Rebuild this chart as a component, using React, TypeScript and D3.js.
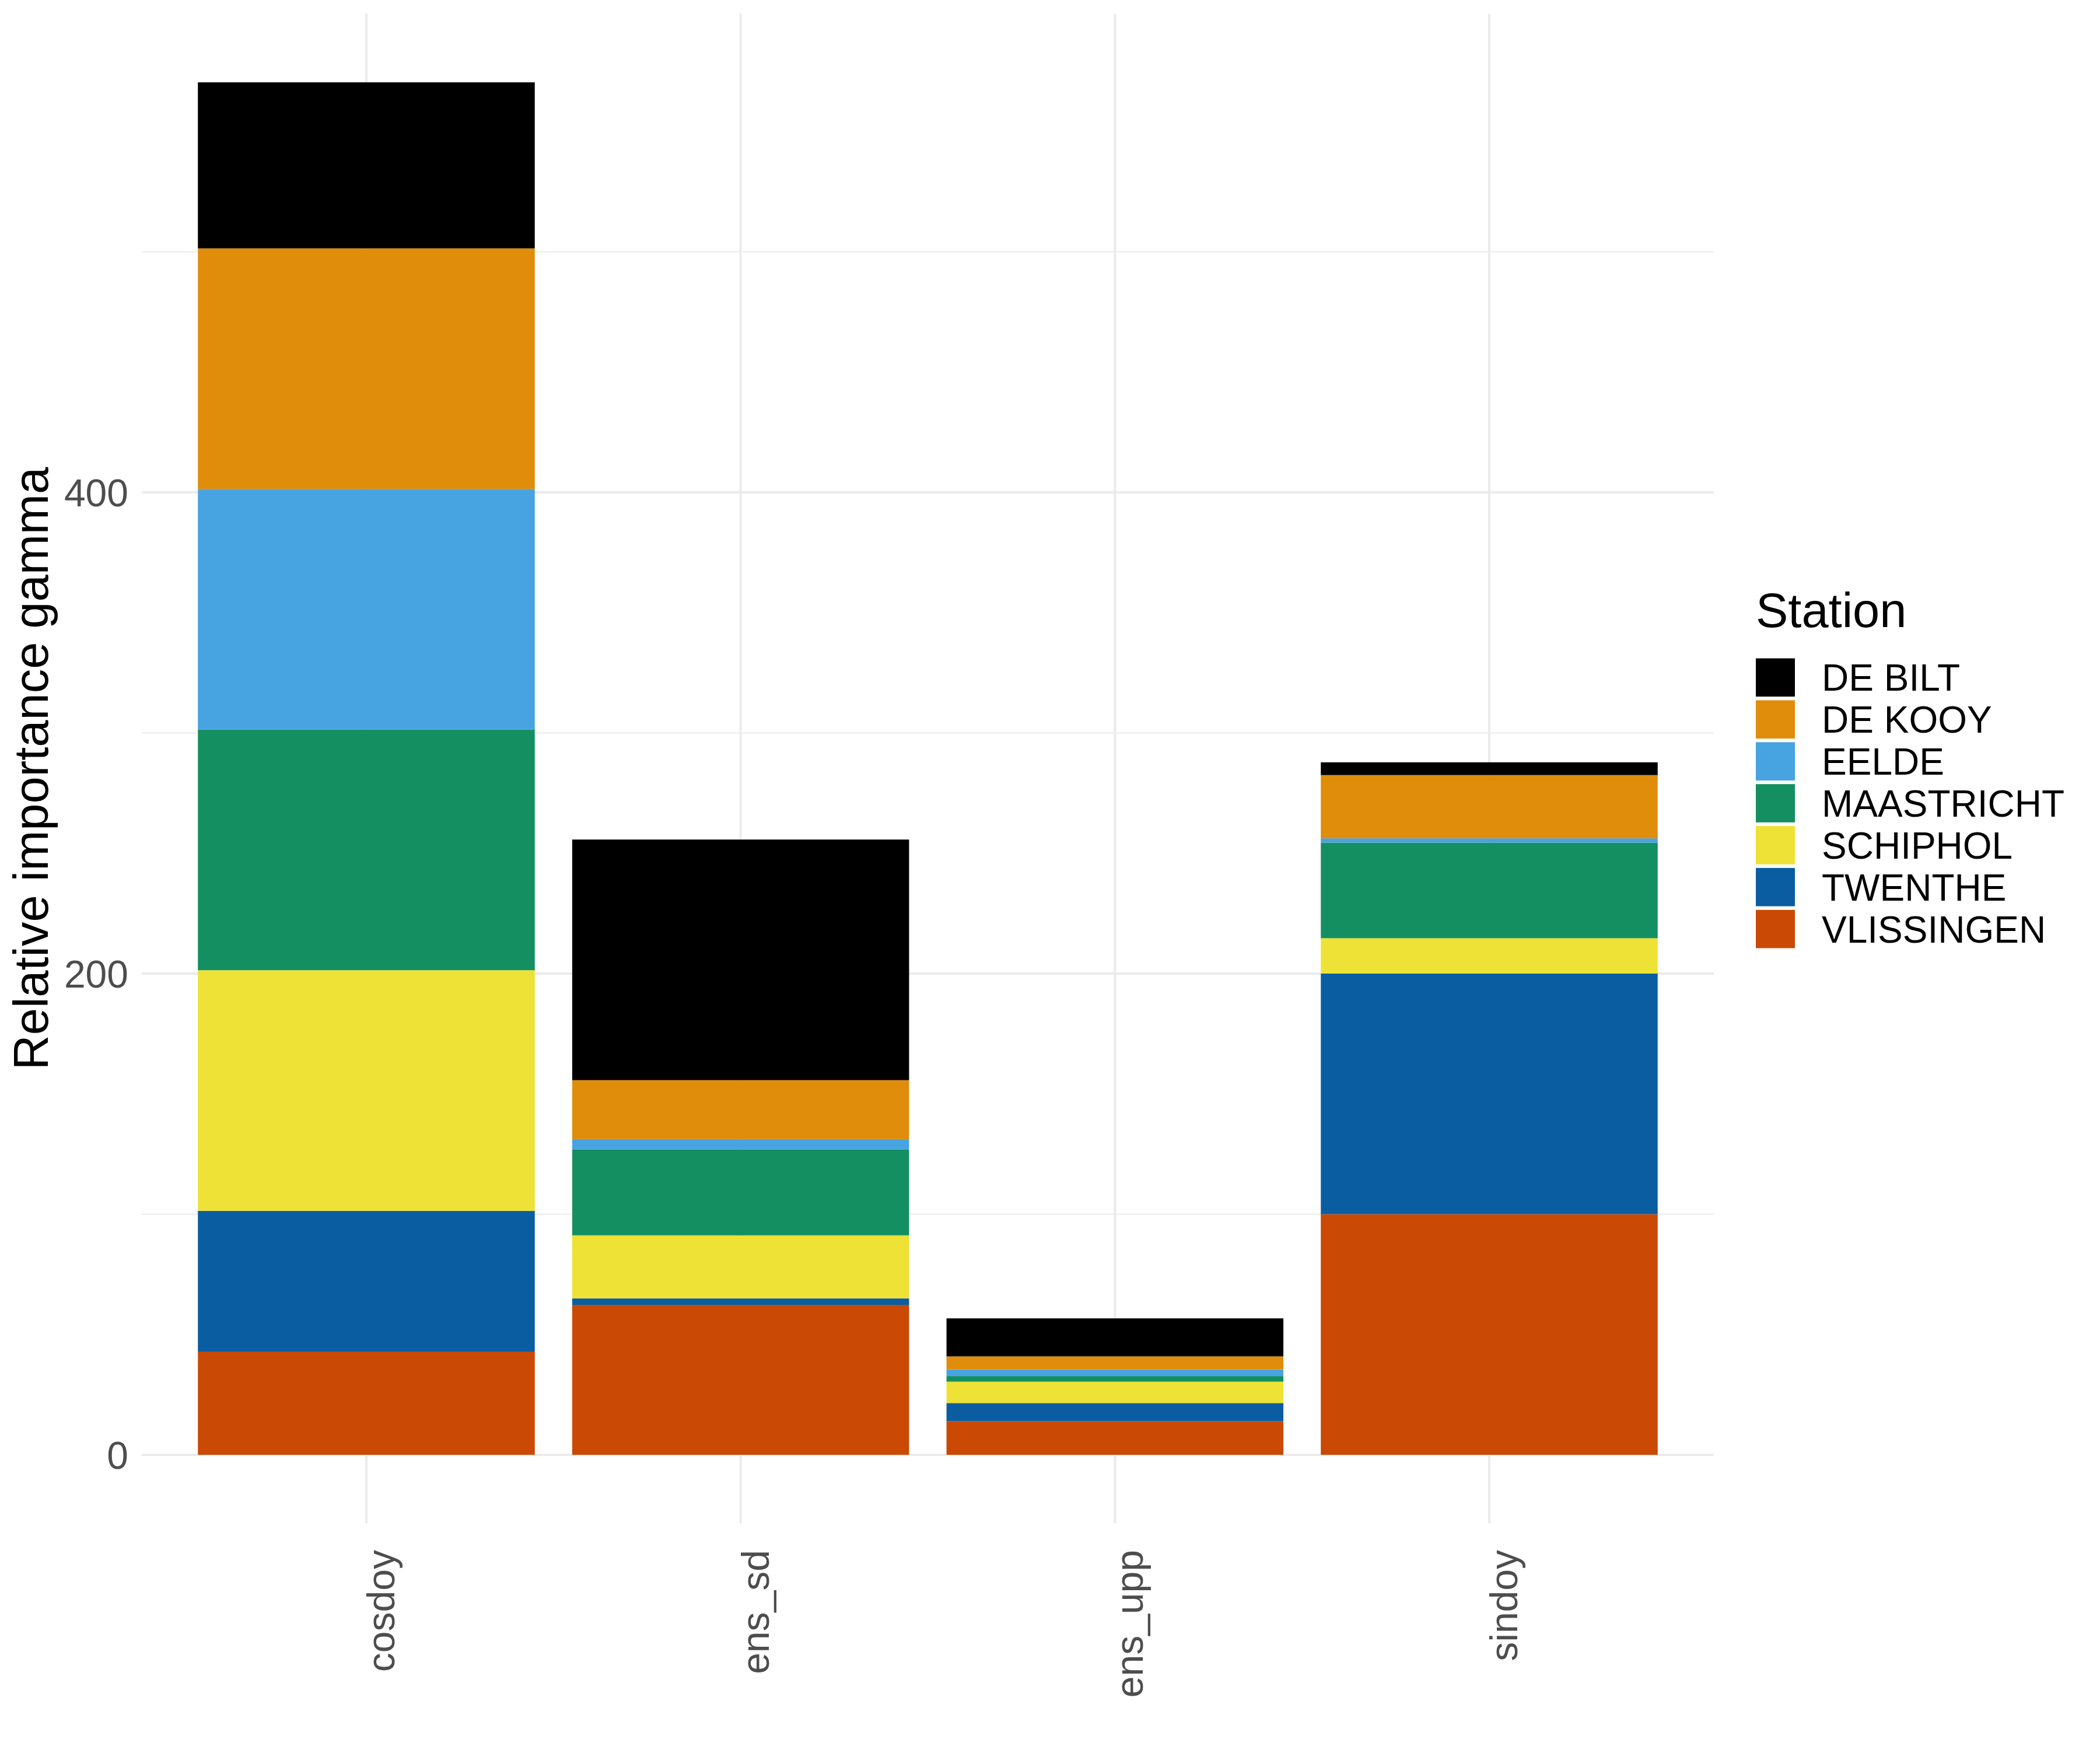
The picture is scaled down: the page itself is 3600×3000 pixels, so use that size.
import * as d3 from "d3";

// --- Data ---

const variables = ["cosdoy", "ens_sd", "ens_upp", "sindoy"];

const stations = [
  "DE BILT",
  "DE KOOY",
  "EELDE",
  "MAASTRICHT",
  "SCHIPHOL",
  "TWENTHE",
  "VLISSINGEN",
];

const stationColors = [
  "#000000",
  "#DF8D0A",
  "#48A3E1",
  "#148F61",
  "#EDE235",
  "#0B5DA1",
  "#C94905",
];

// values per station, in the order of `variables`
const deBilt = [69.0, 100.0, 15.8, 5.3];
const deKooy = [100.0, 24.5, 5.4, 26.3];
const eelde = [100.0, 4.4, 2.8, 1.8];
const maastricht = [100.0, 35.6, 2.3, 39.7];
const schiphol = [100.0, 26.2, 8.9, 14.7];
const twenthe = [58.5, 2.7, 7.5, 100.0];
const vlissingen = [42.9, 62.3, 14.0, 100.0];

const majorTicks = [0, 200, 400];
const minorTicks = [100, 300, 500];

const yTitle = "Relative importance gamma";
const legendTitle = "Station";

// --- Layout ---

const W = 3600;
const H = 3000;

const PANEL = { left: 243, right: 2938, top: 23.5, bottom: 2611.6 };

const FONT = "'Liberation Sans', Arial, Helvetica, sans-serif";
const AXIS_TEXT = { size: 66, color: "#4D4D4D" };
const TITLE_SIZE = 83;

const GRID = { color: "#EBEBEB", major: 4, minor: 2 };

const LEGEND = {
  x: 3010,
  titleY: 1075,
  firstKeyY: 1128.6,
  step: 71.87,
  keyW: 67,
  keyH: 65.6,
  labelX: 3123,
  labelSize: 64,
};

export default function App() {
  const valuesByStation: Record<string, number[]> = {
    "DE BILT": deBilt,
    "DE KOOY": deKooy,
    EELDE: eelde,
    MAASTRICHT: maastricht,
    SCHIPHOL: schiphol,
    TWENTHE: twenthe,
    VLISSINGEN: vlissingen,
  };

  const rows = variables.map((v, i) => {
    const row: Record<string, number | string> = { variable: v };
    stations.forEach((s) => (row[s] = valuesByStation[s][i]));
    return row;
  });

  // ggplot stacks the first factor level on top
  const stackKeys = [...stations].reverse();
  const series = d3
    .stack<Record<string, number | string>>()
    .keys(stackKeys)
    .value((d, k) => d[k] as number)(rows);

  const color = d3.scaleOrdinal<string, string>().domain(stations).range(stationColors);

  const maxTotal = d3.max(series[series.length - 1], (d) => d[1]) ?? 0;

  const x = d3
    .scaleBand<string>()
    .domain(variables)
    .range([PANEL.left, PANEL.right])
    .paddingInner(0.1)
    .paddingOuter(0.15);

  const y = d3
    .scaleLinear()
    .domain([-0.05 * maxTotal, 1.05 * maxTotal])
    .range([PANEL.bottom, PANEL.top]);

  const bw = x.bandwidth();

  return (
    <svg
      width={W}
      height={H}
      viewBox={`0 0 ${W} ${H}`}
      style={{ position: "absolute", left: 0, top: 0, background: "#fff" }}
      fontFamily={FONT}
    >
      <rect width={W} height={H} fill="#fff" />

      {/* grid */}
      <g>
        {minorTicks.map((t) => (
          <line
            key={"mi" + t}
            x1={PANEL.left}
            x2={PANEL.right}
            y1={y(t)}
            y2={y(t)}
            stroke={GRID.color}
            strokeWidth={GRID.minor}
          />
        ))}
        {majorTicks.map((t) => (
          <line
            key={"ma" + t}
            x1={PANEL.left}
            x2={PANEL.right}
            y1={y(t)}
            y2={y(t)}
            stroke={GRID.color}
            strokeWidth={GRID.major}
          />
        ))}
        {variables.map((v) => (
          <line
            key={"vx" + v}
            x1={x(v)! + bw / 2}
            x2={x(v)! + bw / 2}
            y1={PANEL.top}
            y2={PANEL.bottom}
            stroke={GRID.color}
            strokeWidth={GRID.major}
          />
        ))}
      </g>

      {/* bars */}
      <g>
        {series.map((s) => (
          <g key={s.key} fill={color(s.key)}>
            {s.map((d) => (
              <rect
                key={d.data.variable as string}
                x={x(d.data.variable as string)}
                width={bw}
                y={y(d[1])}
                height={y(d[0]) - y(d[1])}
              />
            ))}
          </g>
        ))}
      </g>

      {/* y axis labels */}
      <g fontSize={AXIS_TEXT.size} fill={AXIS_TEXT.color} textAnchor="end">
        {majorTicks.map((t) => (
          <text key={t} x={220} y={y(t) + 24}>
            {t}
          </text>
        ))}
      </g>

      {/* x axis labels */}
      <g fontSize={AXIS_TEXT.size} fill={AXIS_TEXT.color} textAnchor="end">
        {variables.map((v) => {
          const cx = x(v)! + bw / 2 + 48;
          const cy = 2657;
          return (
            <text key={v} x={cx} y={cy} transform={`rotate(-90 ${cx} ${cy})`}>
              {v}
            </text>
          );
        })}
      </g>

      {/* y title */}
      <text
        x={82}
        y={(PANEL.top + PANEL.bottom) / 2}
        transform={`rotate(-90 82 ${(PANEL.top + PANEL.bottom) / 2})`}
        textAnchor="middle"
        fontSize={TITLE_SIZE}
        fill="#000"
      >
        {yTitle}
      </text>

      {/* legend */}
      <g>
        <text x={LEGEND.x} y={LEGEND.titleY} fontSize={TITLE_SIZE} fill="#000">
          {legendTitle}
        </text>
        {stations.map((s, i) => {
          const ky = LEGEND.firstKeyY + i * LEGEND.step;
          return (
            <g key={s}>
              <rect x={LEGEND.x} y={ky} width={LEGEND.keyW} height={LEGEND.keyH} fill={color(s)} />
              <text
                x={LEGEND.labelX}
                y={ky + LEGEND.keyH / 2 + 23}
                fontSize={LEGEND.labelSize}
                fill="#000"
              >
                {s}
              </text>
            </g>
          );
        })}
      </g>
    </svg>
  );
}
